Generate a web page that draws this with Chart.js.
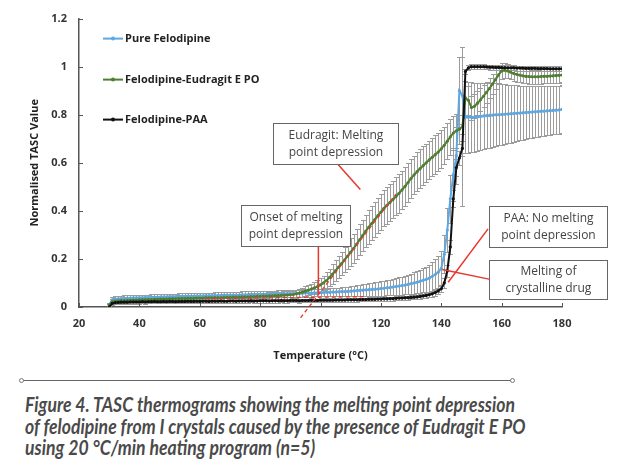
<!DOCTYPE html>
<html>
<head>
<meta charset="utf-8">
<script src="https://cdn.jsdelivr.net/npm/chart.js@4.4.0/dist/chart.umd.min.js"></script>
<style>
  html, body { margin: 0; padding: 0; background: #fff; }
  #wrap { position: absolute; left: 0; top: 0; width: 630px; height: 372px; }
  #rule { position: absolute; left: 23px; top: 380px; width: 488px; height: 1px; background: #666; }
  .dot { position: absolute; top: 378px; width: 5px; height: 5px; border: 1px solid #777; border-radius: 50%; background: #fff; box-sizing: border-box; }
  #caption { position: absolute; left: 25px; top: 393px; font-family: Lato, "Open Sans", sans-serif; font-weight: bold; font-style: italic;
             font-size: 21px; line-height: 21.5px; color: #4a4a4a; white-space: nowrap; }
  #caption div { transform-origin: 0 50%; }
</style>
</head>
<body>
<div id="wrap"><canvas id="tascChart" width="630" height="372"></canvas></div>
<div id="rule"></div>
<div class="dot" style="left:19px"></div>
<div class="dot" style="left:510px"></div>
<div id="caption">
  <div><span>Figure 4. TASC thermograms showing the melting point depression</span></div>
  <div><span>of felodipine from I crystals caused by the presence of Eudragit E PO</span></div>
  <div><span>using 20 °C/min heating program (n=5)</span></div>
</div>
<script>
// temperatura (°C), um ponto por grau
const temps = [
  30, 31, 32, 33, 34, 35, 36, 37, 38, 39,
  40, 41, 42, 43, 44, 45, 46, 47, 48, 49,
  50, 51, 52, 53, 54, 55, 56, 57, 58, 59,
  60, 61, 62, 63, 64, 65, 66, 67, 68, 69,
  70, 71, 72, 73, 74, 75, 76, 77, 78, 79,
  80, 81, 82, 83, 84, 85, 86, 87, 88, 89,
  90, 91, 92, 93, 94, 95, 96, 97, 98, 99,
  100, 101, 102, 103, 104, 105, 106, 107, 108, 109,
  110, 111, 112, 113, 114, 115, 116, 117, 118, 119,
  120, 121, 122, 123, 124, 125, 126, 127, 128, 129,
  130, 131, 132, 133, 134, 135, 136, 137, 138, 139,
  140, 141, 142, 143, 144, 145, 146, 147, 148, 149,
  150, 151, 152, 153, 154, 155, 156, 157, 158, 159,
  160, 161, 162, 163, 164, 165, 166, 167, 168, 169,
  170, 171, 172, 173, 174, 175, 176, 177, 178, 179,
  180
];

// Pure Felodipine
const pure = [
  0.010, 0.030, 0.033, 0.034, 0.035, 0.036, 0.037, 0.037, 0.038, 0.038,
  0.039, 0.039, 0.040, 0.040, 0.041, 0.041, 0.041, 0.042, 0.042, 0.042,
  0.043, 0.043, 0.043, 0.044, 0.044, 0.044, 0.045, 0.045, 0.045, 0.046,
  0.046, 0.046, 0.047, 0.047, 0.047, 0.048, 0.048, 0.048, 0.049, 0.049,
  0.049, 0.050, 0.050, 0.050, 0.051, 0.051, 0.051, 0.052, 0.052, 0.052,
  0.053, 0.053, 0.053, 0.054, 0.054, 0.054, 0.055, 0.055, 0.055, 0.056,
  0.056, 0.056, 0.057, 0.057, 0.057, 0.058, 0.058, 0.058, 0.059, 0.059,
  0.060, 0.060, 0.061, 0.061, 0.062, 0.062, 0.063, 0.064, 0.064, 0.065,
  0.066, 0.067, 0.068, 0.069, 0.070, 0.071, 0.072, 0.073, 0.074, 0.075,
  0.077, 0.078, 0.080, 0.081, 0.083, 0.085, 0.087, 0.089, 0.091, 0.094,
  0.097, 0.100, 0.103, 0.107, 0.111, 0.115, 0.120, 0.127, 0.135, 0.145,
  0.160, 0.220, 0.320, 0.450, 0.550, 0.630, 0.900, 0.880, 0.790, 0.790,
  0.790, 0.790, 0.792, 0.793, 0.795, 0.796, 0.797, 0.798, 0.800, 0.800,
  0.801, 0.802, 0.803, 0.804, 0.805, 0.806, 0.807, 0.808, 0.809, 0.810,
  0.811, 0.812, 0.813, 0.814, 0.815, 0.816, 0.817, 0.818, 0.819, 0.820,
  0.822
];
const pureErr = [
  0.006, 0.012, 0.012, 0.012, 0.012, 0.012, 0.012, 0.012, 0.012, 0.012,
  0.012, 0.012, 0.012, 0.012, 0.012, 0.012, 0.012, 0.012, 0.012, 0.012,
  0.013, 0.013, 0.013, 0.013, 0.013, 0.013, 0.013, 0.013, 0.013, 0.013,
  0.013, 0.013, 0.013, 0.013, 0.013, 0.013, 0.013, 0.013, 0.013, 0.013,
  0.014, 0.014, 0.014, 0.014, 0.014, 0.014, 0.014, 0.014, 0.014, 0.014,
  0.014, 0.014, 0.014, 0.014, 0.014, 0.014, 0.014, 0.014, 0.014, 0.014,
  0.015, 0.015, 0.015, 0.015, 0.015, 0.015, 0.015, 0.015, 0.015, 0.015,
  0.015, 0.016, 0.016, 0.017, 0.017, 0.018, 0.018, 0.019, 0.019, 0.020,
  0.020, 0.021, 0.022, 0.023, 0.024, 0.025, 0.026, 0.027, 0.028, 0.029,
  0.030, 0.031, 0.032, 0.033, 0.034, 0.035, 0.036, 0.037, 0.038, 0.040,
  0.042, 0.044, 0.046, 0.048, 0.050, 0.053, 0.056, 0.060, 0.064, 0.068,
  0.072, 0.080, 0.090, 0.100, 0.110, 0.120, 0.140, 0.160, 0.150, 0.148,
  0.146, 0.144, 0.142, 0.140, 0.138, 0.136, 0.134, 0.132, 0.130, 0.128,
  0.126, 0.124, 0.122, 0.120, 0.118, 0.116, 0.114, 0.112, 0.110, 0.108,
  0.107, 0.106, 0.105, 0.104, 0.103, 0.102, 0.101, 0.100, 0.100, 0.100,
  0.100
];

// Felodipine-Eudragit E PO
const eudragit = [
  0.008, 0.022, 0.025, 0.026, 0.027, 0.027, 0.028, 0.028, 0.029, 0.029,
  0.030, 0.030, 0.031, 0.031, 0.031, 0.032, 0.032, 0.033, 0.033, 0.033,
  0.034, 0.034, 0.034, 0.035, 0.035, 0.035, 0.036, 0.036, 0.036, 0.037,
  0.037, 0.037, 0.038, 0.038, 0.038, 0.039, 0.039, 0.039, 0.040, 0.040,
  0.040, 0.041, 0.041, 0.041, 0.042, 0.042, 0.042, 0.043, 0.043, 0.044,
  0.044, 0.045, 0.045, 0.046, 0.046, 0.047, 0.047, 0.048, 0.049, 0.050,
  0.051, 0.052, 0.055, 0.058, 0.062, 0.066, 0.070, 0.075, 0.080, 0.085,
  0.092, 0.100, 0.110, 0.123, 0.137, 0.151, 0.166, 0.181, 0.196, 0.212,
  0.228, 0.244, 0.262, 0.280, 0.298, 0.316, 0.332, 0.348, 0.364, 0.380,
  0.395, 0.410, 0.423, 0.435, 0.447, 0.460, 0.473, 0.487, 0.502, 0.518,
  0.535, 0.550, 0.563, 0.576, 0.588, 0.600, 0.612, 0.623, 0.634, 0.645,
  0.658, 0.673, 0.690, 0.708, 0.724, 0.733, 0.740, 0.750, 0.870, 0.860,
  0.830, 0.835, 0.848, 0.862, 0.877, 0.893, 0.910, 0.928, 0.947, 0.966,
  0.982, 0.985, 0.982, 0.977, 0.972, 0.968, 0.965, 0.962, 0.960, 0.959,
  0.958, 0.958, 0.958, 0.959, 0.960, 0.960, 0.961, 0.962, 0.963, 0.964,
  0.965
];
const eudragitErr = [
  0.005, 0.012, 0.012, 0.012, 0.012, 0.012, 0.012, 0.012, 0.012, 0.012,
  0.012, 0.012, 0.012, 0.012, 0.012, 0.012, 0.012, 0.012, 0.012, 0.012,
  0.013, 0.013, 0.013, 0.013, 0.013, 0.013, 0.013, 0.013, 0.013, 0.013,
  0.013, 0.013, 0.013, 0.013, 0.013, 0.013, 0.013, 0.013, 0.013, 0.013,
  0.014, 0.014, 0.014, 0.014, 0.014, 0.014, 0.014, 0.014, 0.014, 0.014,
  0.014, 0.014, 0.014, 0.015, 0.015, 0.015, 0.015, 0.016, 0.016, 0.016,
  0.016, 0.016, 0.017, 0.018, 0.019, 0.020, 0.021, 0.022, 0.024, 0.026,
  0.028, 0.031, 0.034, 0.037, 0.040, 0.043, 0.046, 0.049, 0.052, 0.055,
  0.058, 0.060, 0.062, 0.064, 0.066, 0.068, 0.070, 0.071, 0.072, 0.073,
  0.074, 0.075, 0.076, 0.077, 0.078, 0.079, 0.080, 0.080, 0.080, 0.080,
  0.080, 0.080, 0.080, 0.080, 0.080, 0.080, 0.080, 0.080, 0.080, 0.080,
  0.080, 0.078, 0.076, 0.074, 0.072, 0.070, 0.060, 0.330, 0.070, 0.060,
  0.050, 0.050, 0.050, 0.048, 0.046, 0.044, 0.042, 0.040, 0.038, 0.036,
  0.034, 0.032, 0.031, 0.030, 0.030, 0.030, 0.030, 0.030, 0.030, 0.030,
  0.030, 0.030, 0.030, 0.030, 0.030, 0.030, 0.030, 0.030, 0.030, 0.030,
  0.030
];

// Felodipine-PAA
const paa = [
  0.000, 0.015, 0.018, 0.019, 0.020, 0.020, 0.020, 0.021, 0.021, 0.021,
  0.021, 0.022, 0.021, 0.022, 0.022, 0.023, 0.022, 0.022, 0.023, 0.022,
  0.023, 0.023, 0.022, 0.023, 0.023, 0.023, 0.024, 0.023, 0.023, 0.024,
  0.023, 0.024, 0.024, 0.023, 0.024, 0.024, 0.024, 0.025, 0.024, 0.024,
  0.025, 0.025, 0.024, 0.025, 0.025, 0.025, 0.025, 0.026, 0.025, 0.025,
  0.026, 0.026, 0.026, 0.025, 0.026, 0.026, 0.026, 0.027, 0.026, 0.026,
  0.027, 0.027, 0.027, 0.026, 0.027, 0.027, 0.027, 0.028, 0.027, 0.027,
  0.028, 0.028, 0.028, 0.028, 0.028, 0.029, 0.029, 0.029, 0.029, 0.030,
  0.030, 0.030, 0.030, 0.031, 0.031, 0.031, 0.032, 0.032, 0.032, 0.033,
  0.033, 0.034, 0.034, 0.035, 0.035, 0.036, 0.037, 0.037, 0.038, 0.039,
  0.040, 0.041, 0.042, 0.044, 0.046, 0.048, 0.051, 0.055, 0.060, 0.067,
  0.076, 0.100, 0.150, 0.250, 0.450, 0.580, 0.620, 0.660, 0.980, 0.995,
  1.000, 1.000, 1.000, 1.000, 1.000, 0.999, 0.998, 0.998, 0.997, 0.997,
  0.996, 0.996, 0.995, 0.995, 0.995, 0.994, 0.994, 0.994, 0.993, 0.993,
  0.993, 0.993, 0.992, 0.992, 0.992, 0.992, 0.991, 0.991, 0.991, 0.991,
  0.991
];
const paaErr = [
  0.004, 0.007, 0.007, 0.007, 0.007, 0.007, 0.007, 0.007, 0.007, 0.007,
  0.007, 0.007, 0.007, 0.007, 0.007, 0.007, 0.007, 0.007, 0.007, 0.007,
  0.007, 0.007, 0.007, 0.007, 0.007, 0.007, 0.007, 0.007, 0.007, 0.007,
  0.007, 0.007, 0.007, 0.007, 0.007, 0.007, 0.007, 0.007, 0.007, 0.007,
  0.007, 0.007, 0.007, 0.007, 0.007, 0.007, 0.007, 0.007, 0.007, 0.007,
  0.008, 0.008, 0.008, 0.008, 0.008, 0.008, 0.008, 0.008, 0.008, 0.008,
  0.008, 0.008, 0.008, 0.008, 0.008, 0.008, 0.008, 0.008, 0.008, 0.008,
  0.008, 0.008, 0.008, 0.008, 0.008, 0.008, 0.008, 0.008, 0.008, 0.008,
  0.008, 0.008, 0.008, 0.008, 0.008, 0.008, 0.008, 0.008, 0.008, 0.008,
  0.008, 0.008, 0.008, 0.008, 0.008, 0.008, 0.008, 0.008, 0.008, 0.008,
  0.008, 0.008, 0.009, 0.009, 0.010, 0.010, 0.011, 0.012, 0.013, 0.014,
  0.015, 0.020, 0.025, 0.030, 0.035, 0.035, 0.030, 0.030, 0.012, 0.010,
  0.010, 0.010, 0.010, 0.010, 0.010, 0.010, 0.010, 0.010, 0.010, 0.010,
  0.010, 0.010, 0.010, 0.010, 0.010, 0.010, 0.010, 0.010, 0.010, 0.010,
  0.010, 0.010, 0.010, 0.010, 0.010, 0.010, 0.010, 0.010, 0.010, 0.010,
  0.010
];

const seriesNames = ['Pure Felodipine', 'Felodipine-Eudragit E PO', 'Felodipine-PAA'];
const seriesColors = ['#5ea7e0', '#4e7f32', '#111111'];
const yTicks = [0, 0.2, 0.4, 0.6, 0.8, 1, 1.2];
const xTicks = [20, 40, 60, 80, 100, 120, 140, 160, 180];

// caixas de texto com setas (em unidades dos eixos)
const notes = [
  { lines: ['Eudragit: Melting', 'point depression'], box: [84.1, 0.765, 125.8, 0.596], arrow: [105.6, 0.596, 113.2, 0.489] },
  { lines: ['Onset of melting', 'point depression'], box: [73.6, 0.423, 109.9, 0.255], arrow: [99.3, 0.255, 99.3, 0.05] },
  { lines: ['PAA: No melting', 'point depression'], box: [155.9, 0.419, 194.9, 0.251], arrow: [155.5, 0.325, 142.3, 0.103] },
  { lines: ['Melting of', 'crystalline drug'], box: [155.9, 0.197, 194.9, 0.033], arrow: [156.2, 0.115, 140.3, 0.156] }
];
// linhas tracejadas vermelhas (tangente e linha de base)
const dashedLines = [
  [93.4, -0.045, 125, 0.47],
  [62, 0.035, 115, 0.043]
];

const boldFont = { family: 'Open Sans', size: 11, weight: 'bold' };

function toPoints(vals) {
  return temps.map((t, i) => ({ x: t, y: vals[i] }));
}

const datasets = [pure, eudragit, paa].map((vals, i) => ({
  label: seriesNames[i],
  data: toPoints(vals),
  errors: [pureErr, eudragitErr, paaErr][i],
  borderColor: seriesColors[i],
  backgroundColor: seriesColors[i],
  borderWidth: 2,
  pointRadius: 1.6,
  pointBorderWidth: 0,
  tension: 0,
  order: 3 - i
}));

// barras de erro desenhadas atrás das linhas
const errorBars = {
  id: 'errorBars',
  beforeDatasetsDraw(chart) {
    const { ctx, chartArea, scales: { x, y } } = chart;
    ctx.save();
    ctx.beginPath();
    ctx.rect(chartArea.left, chartArea.top - 20, chartArea.width, chartArea.height + 20);
    ctx.clip();
    ctx.strokeStyle = '#9c9c9c';
    ctx.lineWidth = 1;
    chart.data.datasets.forEach(ds => {
      ds.data.forEach((p, i) => {
        const e = ds.errors[i];
        const px = Math.round(x.getPixelForValue(p.x)) + 0.5;
        const top = Math.round(y.getPixelForValue(p.y + e)) + 0.5;
        const bot = Math.round(y.getPixelForValue(p.y - e)) + 0.5;
        ctx.beginPath();
        ctx.moveTo(px, top); ctx.lineTo(px, bot);
        ctx.moveTo(px - 2.5, top); ctx.lineTo(px + 2.5, top);
        ctx.moveTo(px - 2.5, bot); ctx.lineTo(px + 2.5, bot);
        ctx.stroke();
      });
    });
    ctx.restore();
  },
  afterDatasetsDraw(chart) {
    const { ctx, scales: { x, y } } = chart;
    ctx.save();
    ctx.strokeStyle = '#e8372c';
    ctx.lineWidth = 1.3;
    ctx.setLineDash([4, 3]);
    dashedLines.forEach(l => {
      ctx.beginPath();
      ctx.moveTo(x.getPixelForValue(l[0]), y.getPixelForValue(l[1]));
      ctx.lineTo(x.getPixelForValue(l[2]), y.getPixelForValue(l[3]));
      ctx.stroke();
    });
    ctx.restore();
  }
};

// marcas dos eixos, legenda e anotações
const overlay = {
  id: 'overlay',
  afterDraw(chart) {
    const { ctx, chartArea, scales: { x, y } } = chart;
    ctx.save();

    // pequenas marcas para dentro
    ctx.strokeStyle = '#555';
    ctx.lineWidth = 1;
    ctx.beginPath();
    yTicks.forEach(v => {
      const py = Math.round(y.getPixelForValue(v)) + 0.5;
      ctx.moveTo(chartArea.left, py); ctx.lineTo(chartArea.left + 4, py);
    });
    xTicks.forEach(v => {
      const px = Math.round(x.getPixelForValue(v)) + 0.5;
      ctx.moveTo(px, chartArea.bottom); ctx.lineTo(px, chartArea.bottom - 4);
    });
    ctx.stroke();

    // legenda
    const legendY = [20, 61, 101];
    ctx.font = 'bold 11px "Open Sans"';
    ctx.textBaseline = 'middle';
    seriesNames.forEach((name, i) => {
      const ly = chartArea.top + legendY[i];
      const lx = chartArea.left + 24;
      ctx.strokeStyle = seriesColors[i];
      ctx.lineWidth = 2;
      ctx.beginPath(); ctx.moveTo(lx, ly); ctx.lineTo(lx + 20, ly); ctx.stroke();
      ctx.fillStyle = seriesColors[i];
      ctx.beginPath(); ctx.arc(lx + 10, ly, 2, 0, Math.PI * 2); ctx.fill();
      ctx.fillStyle = '#222';
      ctx.textAlign = 'left';
      ctx.fillText(name, lx + 22, ly + 0.5);
    });

    // anotações
    ctx.font = '12px "Open Sans"';
    ctx.textAlign = 'center';
    notes.forEach(n => {
      ctx.strokeStyle = '#e8372c';
      ctx.lineWidth = 1.5;
      ctx.beginPath();
      ctx.moveTo(x.getPixelForValue(n.arrow[0]), y.getPixelForValue(n.arrow[1]));
      ctx.lineTo(x.getPixelForValue(n.arrow[2]), y.getPixelForValue(n.arrow[3]));
      ctx.stroke();

      const bx0 = Math.round(x.getPixelForValue(n.box[0])) + 0.5;
      const by0 = Math.round(y.getPixelForValue(n.box[1])) + 0.5;
      const bx1 = Math.round(x.getPixelForValue(n.box[2])) + 0.5;
      const by1 = Math.round(y.getPixelForValue(n.box[3])) + 0.5;
      ctx.fillStyle = '#fff';
      ctx.fillRect(bx0, by0, bx1 - bx0, by1 - by0);
      ctx.strokeStyle = '#666';
      ctx.lineWidth = 1;
      ctx.strokeRect(bx0, by0, bx1 - bx0, by1 - by0);
      ctx.fillStyle = '#444';
      const cx = (bx0 + bx1) / 2, cy = (by0 + by1) / 2;
      ctx.fillText(n.lines[0], cx, cy - 8.5);
      ctx.fillText(n.lines[1], cx, cy + 8.5);
    });
    ctx.restore();
  }
};

new Chart(document.getElementById('tascChart'), {
  type: 'line',
  data: { datasets: datasets },
  plugins: [errorBars, overlay],
  options: {
    responsive: false,
    animation: false,
    layout: { padding: { top: 15, right: 68, left: 0, bottom: 0 } },
    plugins: { legend: { display: false }, tooltip: { enabled: false } },
    scales: {
      x: {
        type: 'linear', min: 20, max: 180,
        ticks: { stepSize: 20, padding: 10, font: boldFont, color: '#333' },
        grid: { drawOnChartArea: false, drawTicks: false },
        border: { color: '#555', width: 1.5 },
        title: { display: true, text: 'Temperature (°C)', font: boldFont, color: '#222', padding: { top: 10, bottom: 10 } },
        afterFit(s) { s.height = 65; }
      },
      y: {
        min: 0, max: 1.2,
        ticks: { stepSize: 0.2, padding: 12, font: boldFont, color: '#333',
                 callback: v => String(Number(v.toFixed(1))) },
        grid: { drawOnChartArea: false, drawTicks: false },
        border: { color: '#555', width: 1.5 },
        title: { display: true, text: 'Normalised TASC Value', font: boldFont, color: '#222', padding: { top: 28, bottom: 28 } },
        afterFit(s) { s.width = 79; }
      }
    }
  }
});

// ajusta a largura da legenda da figura
const capSpans = document.querySelectorAll('#caption span');
const k = 490 / capSpans[0].getBoundingClientRect().width;
document.querySelectorAll('#caption div').forEach(d => { d.style.transform = 'scaleX(' + k + ')'; });
</script>
</body>
</html>
